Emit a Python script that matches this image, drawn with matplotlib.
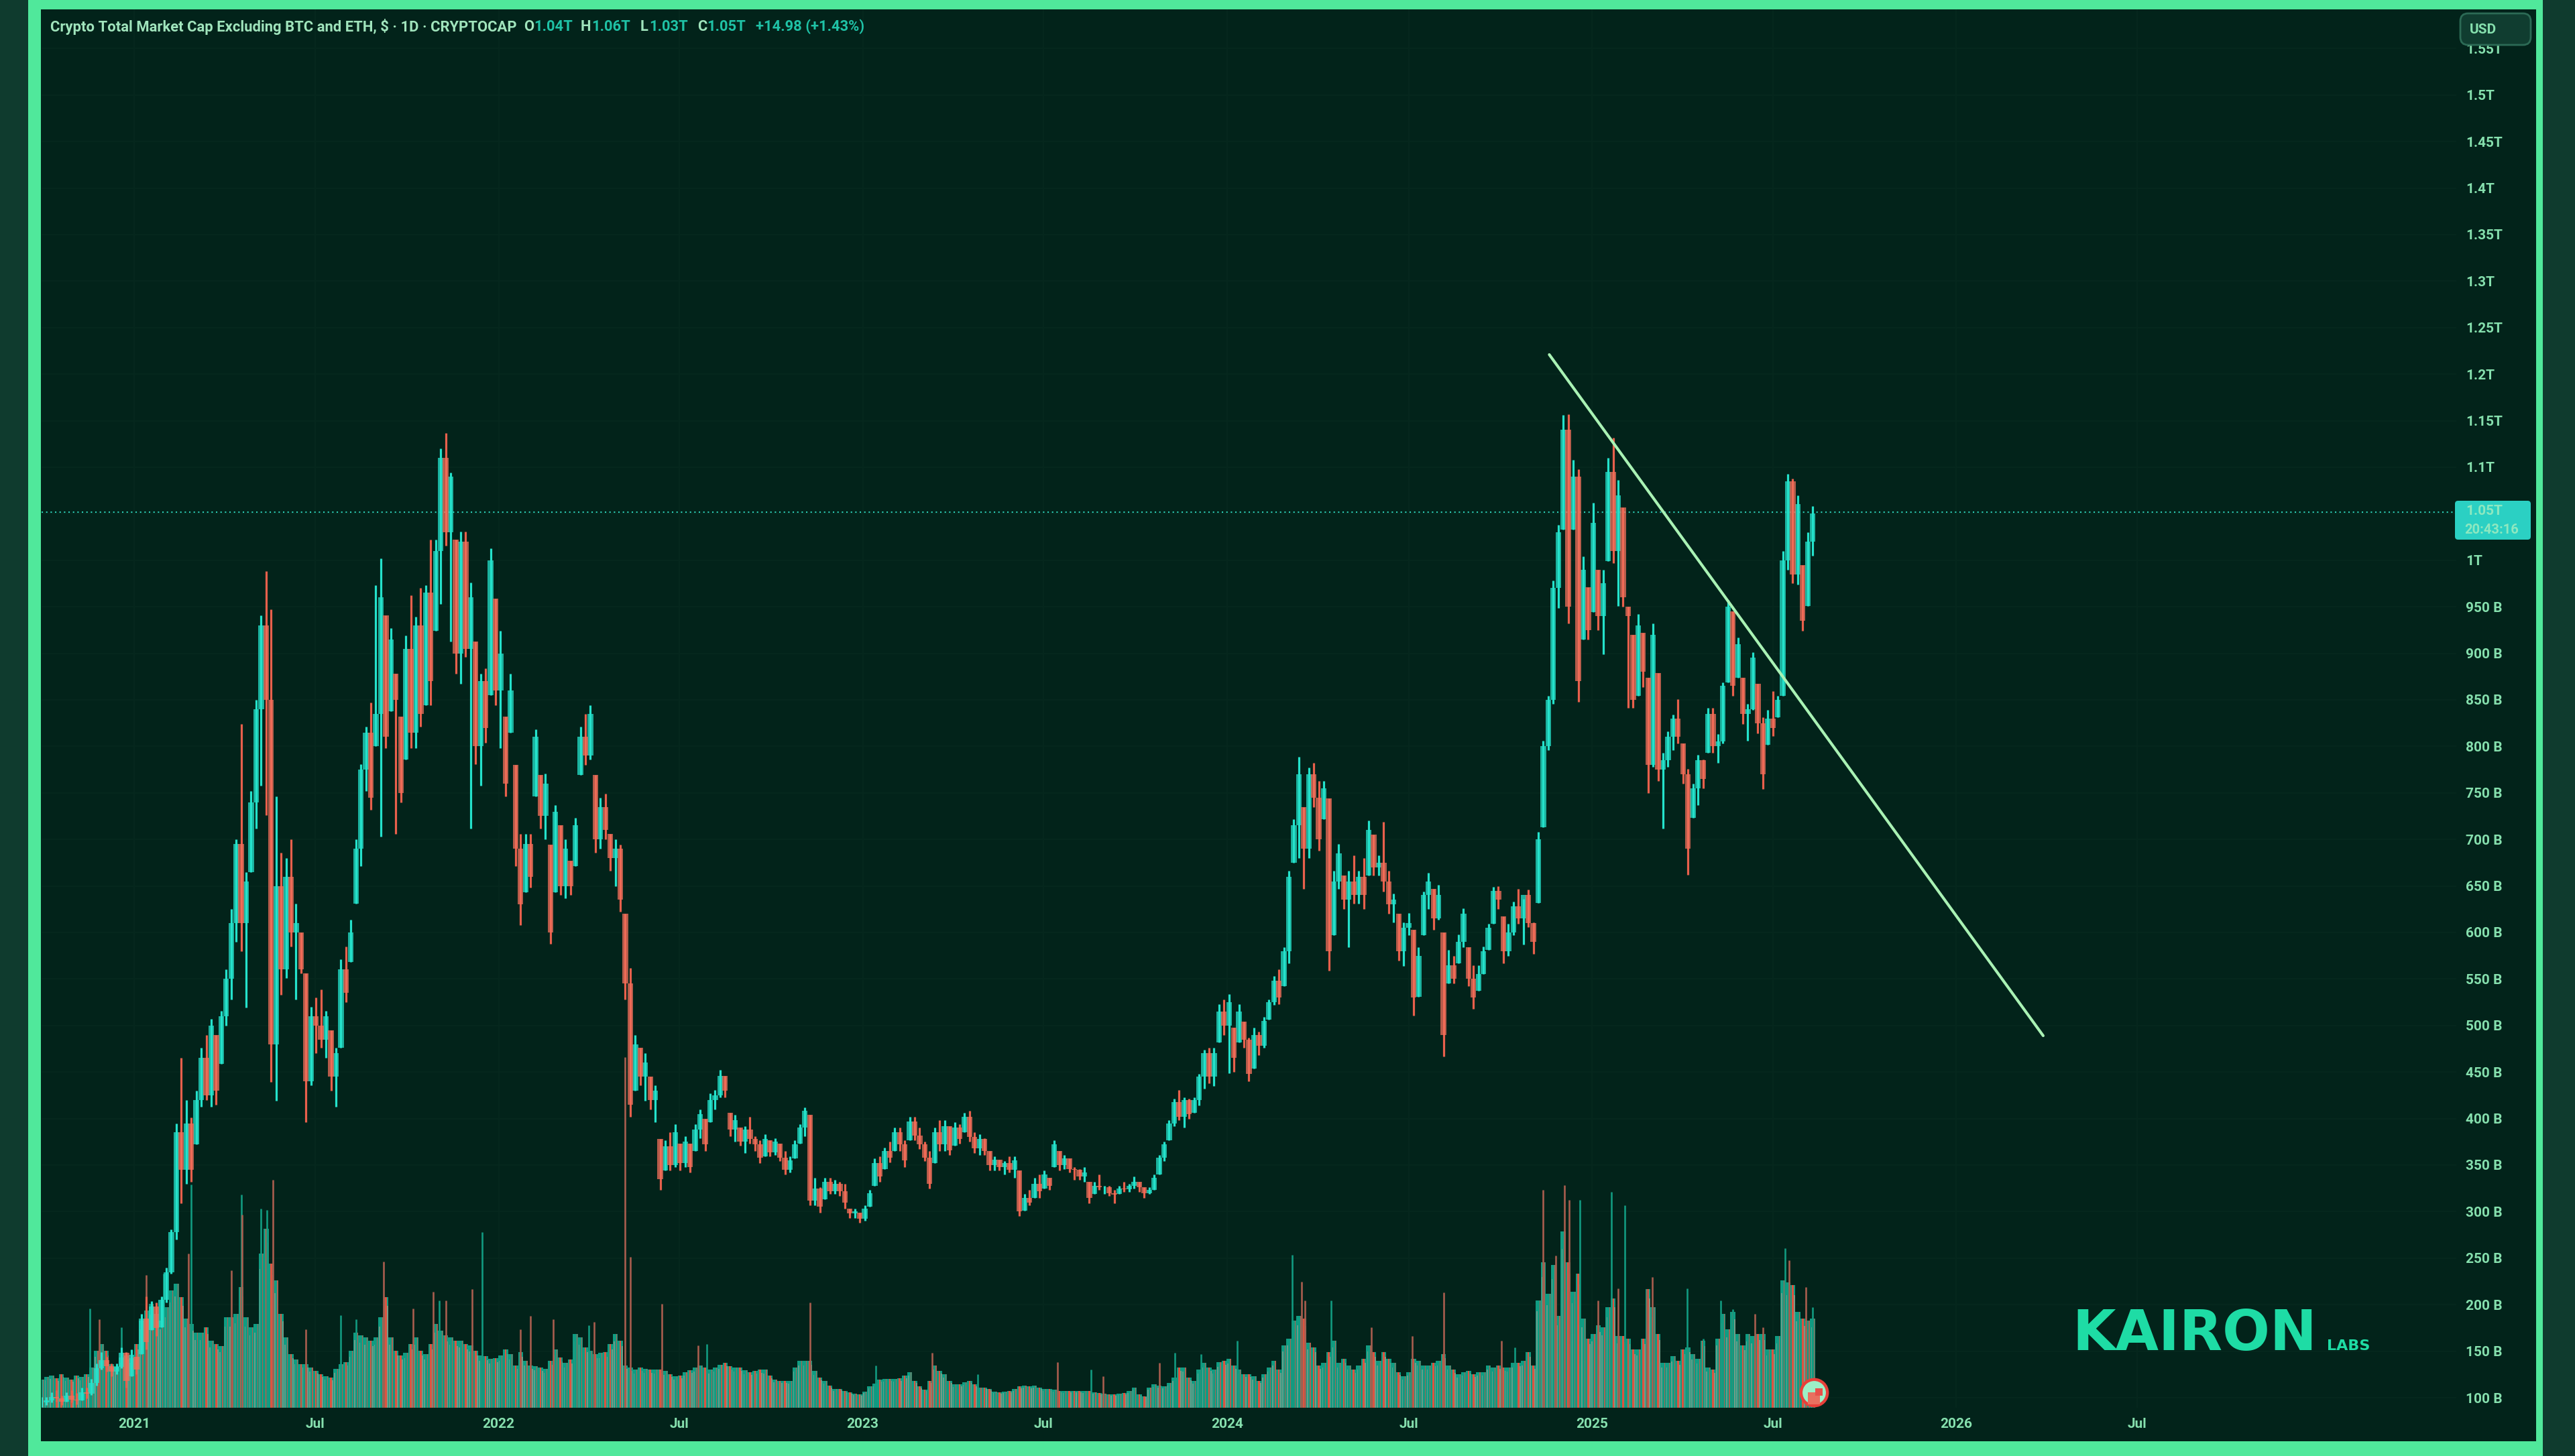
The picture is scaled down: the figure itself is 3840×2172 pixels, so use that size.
import numpy as np
import pandas as pd
import matplotlib
matplotlib.use("Agg")
import matplotlib.pyplot as plt
import matplotlib.dates as mdates
from matplotlib.patches import Rectangle, FancyBboxPatch

# values, one candle per 5 days, in billions
start = "2020-09-30"
highs = [101,101,106,108,102,106,108,105,111,111,
120,137,149,144,137,137,154,149,152,144,
190,209,204,202,209,240,281,395,465,420,
401,430,476,490,507,490,516,560,625,700,
824,665,752,850,941,988,947,746,686,680,
700,631,600,556,520,530,539,516,495,476,
571,585,614,700,781,821,847,973,1002,941,
927,878,832,919,962,939,970,973,1022,1022,
1120,1137,1094,1022,1031,1031,976,913,878,884,
1013,959,924,832,878,780,706,706,706,818,
769,771,694,737,715,700,677,723,821,835,
844,769,745,749,706,700,694,620,562,490,
476,470,445,436,378,377,385,394,373,381,
373,394,410,400,427,431,452,446,406,404,
390,392,402,381,377,383,377,379,373,365,
359,377,394,412,404,336,326,336,336,334,
332,330,303,303,299,307,323,357,359,369,
375,390,390,377,402,402,390,375,365,390,
398,398,392,396,394,406,408,385,383,379,
365,359,356,354,359,359,344,319,323,336,
340,344,336,377,365,361,357,348,346,348,
332,332,340,328,328,323,328,332,330,338,
332,326,326,340,361,375,398,421,431,423,
421,423,448,474,476,476,523,528,534,498,
523,504,487,498,493,509,528,553,560,584,
666,722,789,735,777,782,763,763,744,666,
695,661,666,683,666,680,720,705,683,719,
666,642,620,611,621,603,584,644,664,647,
651,600,581,575,598,626,584,565,565,585,
609,649,650,617,609,633,647,636,646,611,
708,806,854,978,1038,1156,1157,1108,1098,1004,
971,1062,990,990,1110,1132,1086,1057,950,920,
942,922,874,932,879,793,816,834,851,803,
776,760,791,786,841,841,813,869,957,945,
917,874,846,901,867,831,839,859,854,1010,
1093,1088,1070,995,1030,1058]
lows = [90,92,95,96,92,96,95,93,97,99,
103,113,130,128,123,125,132,111,123,125,
147,152,173,166,176,202,233,270,309,330,
332,372,413,420,413,415,459,500,528,590,
580,519,665,712,758,726,439,419,533,551,
585,528,556,396,436,470,476,465,430,413,
476,525,568,631,671,752,732,800,703,798,
838,706,740,786,798,798,821,844,844,924,
953,1016,913,878,867,896,712,781,758,804,
855,844,798,746,815,671,608,643,648,746,
712,700,588,643,640,637,640,671,769,780,
786,686,690,700,666,650,622,528,402,430,
436,419,410,396,323,344,344,348,344,348,
342,365,379,365,396,410,423,423,381,375,
371,363,373,365,352,359,359,361,354,340,
342,357,373,381,307,307,299,313,319,319,
317,303,293,293,288,290,305,328,332,346,
353,365,365,348,377,377,367,354,325,352,
365,365,361,371,373,385,375,363,361,361,
344,344,344,340,342,336,295,301,307,315,
315,325,323,348,344,346,342,334,334,332,
309,319,323,319,317,309,319,321,321,325,
321,315,319,323,340,354,377,392,398,390,
400,406,414,432,438,435,482,490,449,450,
482,476,440,454,468,476,506,522,523,542,
567,675,680,647,680,735,688,722,559,597,
647,625,584,631,631,625,661,661,661,644,
620,611,570,564,597,511,531,597,625,603,
614,467,545,545,567,584,542,518,537,555,
581,609,625,567,575,597,609,587,606,577,
632,713,796,846,949,1033,932,1033,848,915,
915,944,925,899,999,997,951,950,841,841,
854,864,750,778,763,712,778,796,803,760,
662,723,737,755,793,793,782,803,869,854,
874,824,806,839,814,754,802,811,831,854,
990,975,974,924,951,1005]
closes = [95,97,101,99,96,102,98,97,106,104,
116,132,140,134,128,133,148,118,146,130,
185,160,198,175,205,235,278,385,345,395,
345,420,465,425,500,430,510,550,610,695,
610,655,740,840,930,850,480,650,560,660,
600,610,560,440,510,500,485,510,445,470,
560,535,600,690,775,815,745,835,960,810,
915,850,750,905,815,930,835,965,870,1010,
1110,1030,1090,900,1020,905,960,800,870,820,
1000,860,900,760,860,690,630,695,660,810,
725,760,600,730,650,690,650,715,810,790,
835,700,735,710,680,690,635,545,415,480,
445,460,420,430,335,370,350,385,352,375,
348,388,405,372,420,425,446,430,388,398,
375,388,378,372,358,378,364,375,358,345,
355,372,390,408,312,325,305,332,322,330,
322,310,298,300,292,303,320,352,338,365,
358,385,372,355,397,382,372,358,330,385,
372,392,366,390,378,402,380,368,378,365,
350,356,348,352,345,355,300,315,310,330,
322,340,328,372,350,357,346,345,338,342,
315,328,326,326,320,318,325,324,328,332,
326,320,323,336,358,372,395,418,402,420,
405,420,445,470,445,470,515,500,525,465,
515,485,448,490,478,505,525,548,530,580,
660,715,770,690,770,745,700,755,580,655,
685,635,655,640,660,640,710,670,675,655,
630,635,580,605,610,530,575,640,655,615,
640,490,565,550,590,620,550,530,555,580,
605,645,635,580,600,628,615,640,610,590,
700,800,850,970,1030,1140,950,1090,870,990,
925,1040,940,975,1095,1010,1070,960,940,850,
930,880,780,920,775,785,810,830,810,770,
690,755,785,765,835,800,805,865,950,865,
910,835,840,895,825,770,830,820,850,1000,
1085,985,1060,935,1020,1050]
volumes = [42,46,48,44,50,45,42,48,46,50,
60,85,95,85,65,62,75,78,74,95,
130,145,155,140,130,150,175,185,165,133,
125,112,112,120,100,95,92,135,135,140,
180,135,120,125,230,267,215,190,140,105,
80,72,65,65,60,55,50,47,45,58,
65,68,85,112,108,105,100,105,135,165,
105,85,78,82,95,105,85,80,95,125,
115,108,105,100,100,95,93,85,78,77,
73,74,78,87,80,63,83,70,63,62,
60,58,70,87,75,67,72,110,105,90,
85,80,82,83,95,110,100,63,60,57,
60,58,57,57,57,55,50,47,48,53,
56,60,63,60,57,60,64,67,62,60,
60,56,53,55,57,57,48,42,40,40,
40,60,70,70,70,55,45,40,33,28,
28,25,23,21,20,24,32,36,42,43,
43,43,44,48,53,40,32,27,40,63,
55,50,40,35,35,38,40,35,30,30,
28,24,23,24,25,28,32,33,32,33,
30,28,28,27,25,25,25,25,25,25,
25,23,22,21,20,20,21,22,25,30,
20,17,30,35,33,32,37,45,60,60,
45,40,57,67,60,57,68,70,73,63,
57,50,50,47,40,50,60,70,57,93,
103,130,137,133,97,90,63,67,83,100,
67,73,63,57,63,73,93,83,70,83,
73,67,53,47,53,73,70,63,63,67,
70,80,63,57,50,53,55,50,53,53,
63,60,63,60,60,67,67,70,83,63,
160,217,170,213,137,263,217,173,200,133,
103,110,123,120,150,163,107,107,103,87,
87,103,177,150,110,67,67,77,70,87,
90,80,73,100,60,57,103,140,117,143,
110,93,110,107,110,110,87,87,107,190,
187,183,143,133,130,133]

# single day volume spikes that stick out of the bars
spike_up_pos = [9.7,16,24.5,30,40,44,45.2,60,63,79.7,88.3,106.6,109.7,133.4,167.2,187.7,210.3,227.1,232.4,239.6,250.7,258.5,295.3,308.3,314.7,317.3,329.9,333,336.6,339,349.4,355]
spike_up_val = [148,120,200,333,318,297,295,138,132,160,262,110,123,95,63,50,57,82,80,100,228,160,90,310,322,302,178,103,160,147,238,150]
spike_down_pos = [11.5,21,29.5,38,40.2,46.4,53,68.6,74.5,78.5,81,86.3,96,98,102.6,110.8,116.9,118,124.3,131.6,154,178.5,203.6,212.8,224,252.5,253.2,266.5,274.7,281,292.6,300.9,303.5,305.3,306.2,312,316,321.8,322.9,343.4,345,350.3,353.6]
spike_down_val = [132,198,230,205,288,340,117,218,148,173,160,177,117,137,132,128,523,225,155,93,157,82,68,47,67,188,160,120,107,172,100,325,227,332,310,160,178,177,195,140,120,220,180]

last_price = 1052
trend_dates = ["2024-11-19", "2026-03-29"]
trend_vals = [1221, 489]

price_ticks = [100,150,200,250,300,350,400,450,500,550,600,650,700,750,800,850,900,950,1000,1050,1100,1150,1200,1250,1300,1350,1400,1450,1500,1550]
price_labels = ["100 B","150 B","200 B","250 B","300 B","350 B","400 B","450 B","500 B","550 B","600 B","650 B","700 B","750 B","800 B","850 B","900 B","950 B","1T","","1.1T","1.15T","1.2T","1.25T","1.3T","1.35T","1.4T","1.45T","1.5T","1.55T"]
time_ticks = ["2021-01-01","2021-07-01","2022-01-01","2022-07-01","2023-01-01","2023-07-01","2024-01-01","2024-07-01","2025-01-01","2025-07-01","2026-01-01","2026-07-01"]
time_labels = ["2021","Jul","2022","Jul","2023","Jul","2024","Jul","2025","Jul","2026","Jul"]

BG = "#02231a"
FRAME = "#0f3b2e"
BORDER = "#50e89b"
TEXT = "#86e0ae"
UP = "#24e2cb"
DOWN = "#f36f5b"
VOL_UP = "#12a78c"
VOL_DOWN = "#de5340"
W, H = 3840, 2172

plt.rcParams["font.family"] = ["Roboto", "DejaVu Sans"]

fig = plt.figure(figsize=(W / 100, H / 100), dpi=100, facecolor=FRAME)


def fx(px):
    return px / W


def fy(py):
    return 1 - py / H


def frect(x0, y0, x1, y1, **kw):
    return Rectangle((fx(x0), fy(y1)), (x1 - x0) / W, (y1 - y0) / H, transform=fig.transFigure, **kw)


fig.add_artist(frect(42, 0, 3792, 2172, fc=BORDER, ec="none", zorder=-3))
fig.add_artist(frect(61, 14, 3782, 2150, fc=BG, ec="none", zorder=-2))

ax = fig.add_axes([fx(62), fy(2100), (3663 - 62) / W, (2100 - 14) / H])
vol = ax.twinx()
ax.set_zorder(2)
vol.set_zorder(1)
ax.patch.set_visible(False)
vol.patch.set_visible(False)

dates = pd.date_range(start, periods=len(closes), freq="5D")
x = mdates.date2num(dates)
x0 = x[0]
highs = np.array(highs)
lows = np.array(lows)
closes = np.array(closes)
volumes = np.array(volumes)
opens = np.clip(np.r_[closes[0], closes[:-1]], lows, highs)
up = closes >= opens

ax.set_xlim(x0, x0 + (3663 - 62) / 1.488)
ax.set_ylim(89.2, 1592)
vol.set_ylim(0, 2086)

# faint grid, behind the volume bars
tick_x = mdates.date2num(pd.to_datetime(time_ticks))
vol.vlines(tick_x, 0, 2086, color="#06281e", lw=1.2, zorder=0)
vol.hlines(price_ticks, x0, x0 + 2420, color="#06281e", lw=1.2, zorder=0, transform=ax.transData)

# volume, teal bars with thin red and grey stripes
vol.bar(x, volumes, width=5, color=VOL_UP, alpha=0.92, lw=0, zorder=1)
vol.bar(x[up] + 1.5, volumes[up], width=0.8, color="#c9584a", alpha=0.85, lw=0, zorder=2)
vol.bar(x[up] - 1.2, volumes[up] * 0.9, width=1.0, color="#7f9c8c", alpha=0.8, lw=0, zorder=2)
vol.bar(x[~up], volumes[~up], width=1.7, color=VOL_DOWN, lw=0, zorder=2)
vol.bar(x[~up] + 1.8, volumes[~up] * 0.92, width=1.2, color="#8f9c8a", alpha=0.8, lw=0, zorder=2)
vol.vlines(x0 + 5 * np.array(spike_up_pos), 0, spike_up_val, color="#119a80", lw=1.9, zorder=3)
vol.vlines(x0 + 5 * np.array(spike_down_pos), 0, spike_down_val, color="#a85d4e", lw=1.9, zorder=3)
vol.set_yticks([])

# price
ax.vlines(x[up], lows[up], highs[up], color=UP, lw=2.3, zorder=3)
ax.vlines(x[~up], lows[~up], highs[~up], color="#e8604c", lw=2.3, zorder=3)
body_low = np.minimum(opens, closes)
body_h = np.abs(closes - opens)
ax.bar(x[up], body_h[up], bottom=body_low[up], width=5.6, color=UP, alpha=0.75, lw=0, zorder=4)
ax.bar(x[~up], body_h[~up], bottom=body_low[~up], width=5.6, color=DOWN, alpha=0.75, lw=0, zorder=4)

ax.axhline(last_price, color="#2ccdb5", lw=1.5, ls=(0, (1, 2.2)), zorder=2)
ax.plot(mdates.date2num(pd.to_datetime(trend_dates)), trend_vals, color="#a9f2b4", lw=3.0, zorder=6, solid_capstyle="round")

# logo dot on the last bar
ax.scatter([x[-1] + 1.2], [106], s=800, facecolor="#9cf0c6", edgecolor="#e8403a", linewidth=3.2, zorder=7)
ax.scatter([x[-1] + 1.2], [99], s=170, marker="s", facecolor="#e8705f", edgecolor="none", zorder=8)
ax.scatter([x[-1] + 6], [106], s=60, marker="s", facecolor="#e8504a", edgecolor="none", zorder=8)

ax.set_xticks(tick_x)
ax.set_xticklabels(time_labels)
ax.yaxis.tick_right()
ax.set_yticks(price_ticks)
ax.set_yticklabels(price_labels)
ax.tick_params(axis="x", length=0, pad=11, labelsize=15, colors=TEXT)
ax.tick_params(axis="y", length=0, pad=10, labelsize=15, colors=TEXT)
for lab in ax.get_xticklabels() + ax.get_yticklabels():
    lab.set_fontweight("bold")
for a in (ax, vol):
    for s in a.spines.values():
        s.set_visible(False)

# legend line
def legend_text(px, s, color):
    fig.text(fx(px), fy(40), s, color=color, fontsize=15.8, fontweight="bold", va="center", ha="left")


legend_text(75, "Crypto Total Market Cap Excluding BTC and ETH, \\$ · 1D · CRYPTOCAP", "#a0e4bc")
legend_text(781, "O", "#a0e4bc")
legend_text(796, "1.04T", "#1fc2a6")
legend_text(866, "H", "#a0e4bc")
legend_text(882, "1.06T", "#1fc2a6")
legend_text(955, "L", "#a0e4bc")
legend_text(968, "1.03T", "#1fc2a6")
legend_text(1040, "C", "#a0e4bc")
legend_text(1054, "1.05T", "#1fc2a6")
legend_text(1127, "+14.98 (+1.43%)", "#1fc2a6")

# USD button and last price tag, above the axis labels
usd = FancyBboxPatch((fx(3669), fy(67)), 105 / W, 47 / H, boxstyle="round,pad=0,rounding_size=0.003",
                     mutation_aspect=W / H, transform=fig.transFigure, fc="#103d30", ec="#2c6a55", lw=2, zorder=5)
fig.add_artist(usd)
fig.text(fx(3683), fy(44), "USD", color=TEXT, fontsize=15, fontweight="bold", va="center", zorder=6)
tag = FancyBboxPatch((fx(3661), fy(805)), 113 / W, 58 / H, boxstyle="round,pad=0,rounding_size=0.0012",
                     mutation_aspect=W / H, transform=fig.transFigure, fc="#2bd0c3", ec="none", zorder=5)
fig.add_artist(tag)
fig.text(fx(3677), fy(762), "1.05T", color="#8ee8c0", fontsize=15, fontweight="bold", va="center", zorder=6)
fig.text(fx(3675), fy(790), "20:43:16", color="#8ee8c0", fontsize=14.5, fontweight="bold", va="center", zorder=6)

# watermark, the wider bold face fills the same width as the logo
fig.text(fx(3090), fy(2014), "KAIRON", color="#1edca5", fontsize=60, fontweight="bold", va="baseline", ha="left", family="DejaVu Sans", zorder=6)
fig.text(fx(3470), fy(2014), "LABS", color="#1edca5", fontsize=16, fontweight="bold", va="baseline", ha="left", family="DejaVu Sans", zorder=6)

fig.savefig("out.png", dpi=100, facecolor=FRAME)
